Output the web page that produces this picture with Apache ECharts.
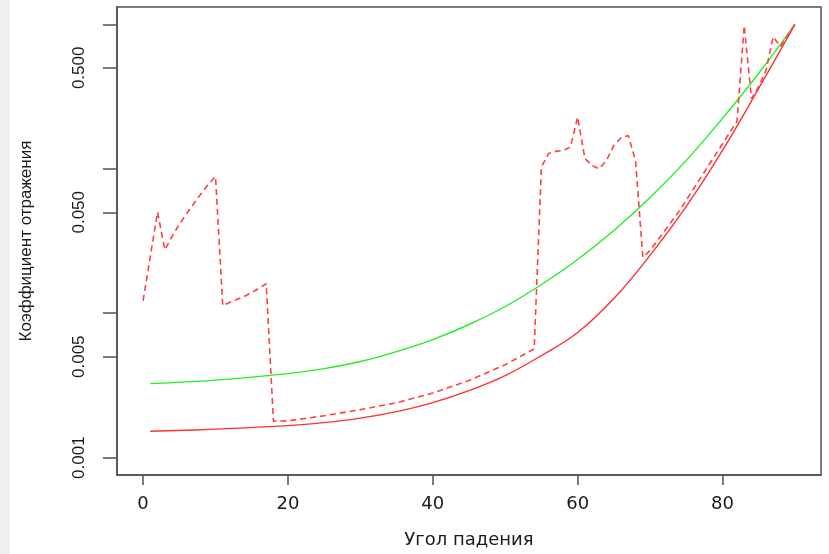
<!DOCTYPE html>
<html>
<head>
<meta charset="utf-8">
<script src="https://cdn.jsdelivr.net/npm/echarts@6/dist/echarts.min.js"></script>
<style>html,body{margin:0;padding:0;background:#fff;}#c{width:829px;height:554px;}</style>
</head>
<body>
<div id="c"></div>
<script>
// Solid red curve
const redAngles = [1,10,20,25,30,35,40,45,50,55,60,65,70,75,80,85,90];
const redValues = [0.001522,0.001576,0.001666,0.001748,0.001878,0.002084,0.002405,0.002912,0.003700,0.005092,0.007349,0.01264,0.02512,0.05488,0.1341,0.3607,1.0];
// Solid green curve
const greenAngles = [1,10,20,25,30,35,40,45,50,55,60,65,70,75,80,85,90];
const greenValues = [0.003257,0.003444,0.003820,0.004138,0.004628,0.005427,0.006572,0.008353,0.01113,0.01581,0.02356,0.03741,0.06334,0.1143,0.2235,0.4583,1.0];
// Dashed red curve
const dashAngles = [0,2,3,4,5,6,7,8,9,10,11,12,13,14,15,16,17,18,20,25,30,35,40,45,50,54,55,56,57,58,59,60,61,62,63,64,65,66,67,68,69,70,74,78,82,83,84,85,86,87,88,89,90];
const dashValues = [0.0122,0.0501,0.0275,0.034,0.0412,0.0489,0.0573,0.0672,0.078,0.0885,0.0113,0.0119,0.0125,0.0131,0.0139,0.0149,0.016,0.00179,0.0018,0.00195,0.00215,0.0024,0.0028,0.00342,0.0044,0.00566,0.103,0.128,0.132,0.134,0.141,0.228,0.118,0.105,0.100,0.115,0.145,0.164,0.170,0.113,0.0244,0.0272,0.0507,0.1039,0.2131,0.98,0.306,0.37,0.48,0.82,0.70,0.84,1.0];

const xTicks = [0,20,40,60,80];
const yTicks = [0.001,0.005,0.01,0.05,0.1,0.5,1];
const yLabels = [0.001,0.005,0.05,0.5];

function pairs(a, v){ return a.map((x,i)=>[x, v[i]]); }

const axisColor = '#505050';
const chart = echarts.init(document.getElementById('c'), null, {renderer:'canvas'});
chart.setOption({
  animation: false,
  backgroundColor: '#fff',
  graphic: [{type:'rect', left:0, top:0, shape:{x:0,y:0,width:10,height:554}, style:{fill:'#efefef'}, silent:true}],
  grid: {left:117, right:8, top:7, bottom:79, show:true, borderColor:axisColor, borderWidth:1.5, backgroundColor:'transparent'},
  xAxis: {
    type:'value', min:-3.6, max:93.6,
    name:'Угол падения', nameLocation:'middle', nameGap:56,
    nameTextStyle:{fontFamily:'DejaVu Sans', fontSize:18, color:'#1a1a1a'},
    splitLine:{show:false},
    axisLine:{show:true, onZero:false, lineStyle:{color:axisColor, width:1.5}},
    axisTick:{show:true, length:10, customValues:xTicks, lineStyle:{color:axisColor, width:1.5}},
    axisLabel:{customValues:xTicks, margin:20, fontFamily:'DejaVu Sans', fontSize:18, color:'#1a1a1a'}
  },
  yAxis: {
    type:'log', logBase:10, min:Math.pow(10,-3.12), max:Math.pow(10,0.12),
    name:'Коэффициент отражения', nameLocation:'middle', nameGap:82, nameRotate:90,
    nameTextStyle:{fontFamily:'Liberation Sans', fontSize:17, color:'#1a1a1a'},
    splitLine:{show:false},
    axisLine:{show:true, onZero:false, lineStyle:{color:axisColor, width:1.5}},
    axisTick:{show:true, length:14, customValues:yTicks, lineStyle:{color:axisColor, width:1.5}},
    axisLabel:{customValues:yLabels, rotate:90, margin:29, fontFamily:'Liberation Sans', fontSize:17, color:'#1a1a1a',
      formatter: v => Number(v).toFixed(3)}
  },
  series: [
    {type:'line', data:pairs(greenAngles, greenValues), smooth:0.4, showSymbol:false,
     lineStyle:{color:'#22ee22', width:1.4}},
    {type:'line', data:pairs(redAngles, redValues), smooth:0.4, showSymbol:false,
     lineStyle:{color:'#ff3030', width:1.4}},
    {type:'line', data:pairs(dashAngles, dashValues), smooth:false, showSymbol:false,
     lineStyle:{color:'#ff4040', width:1.6, type:[6,4]}}
  ]
});
</script>
</body>
</html>
